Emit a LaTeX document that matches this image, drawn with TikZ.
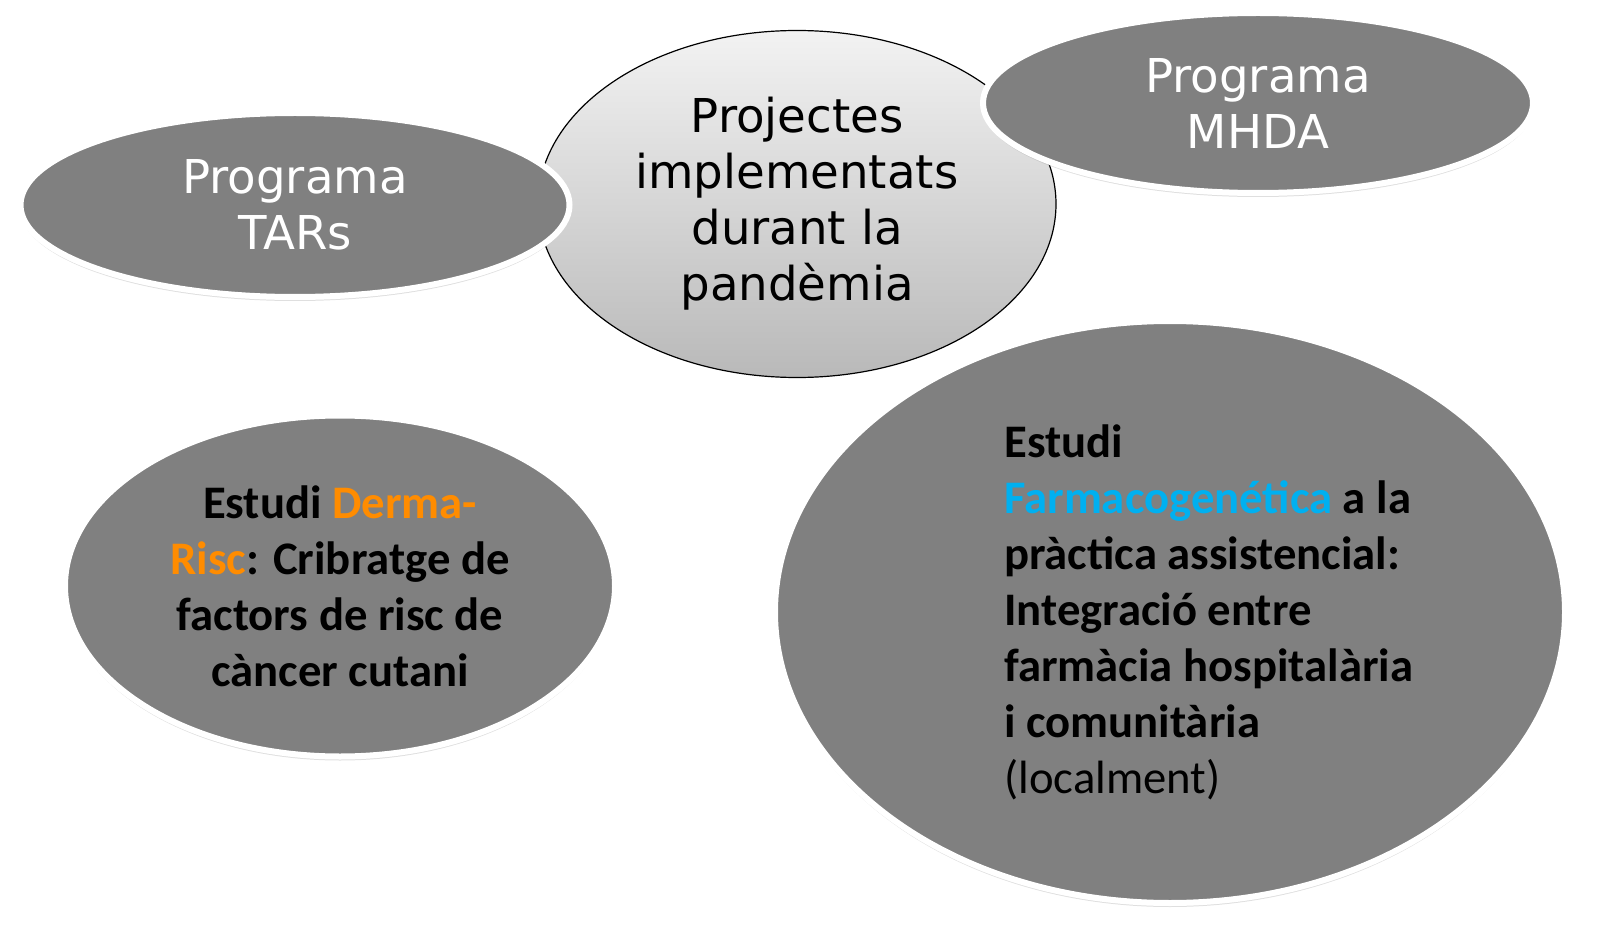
\documentclass[tikz,border=0pt]{standalone}
\usepackage{fontspec}
\setmainfont{Carlito}
\newfontfamily\verdanafont{DejaVu Sans}
\usepackage{tikz}
\usetikzlibrary{shapes.geometric,shadows}
\definecolor{ovalgray}{RGB}{128,128,128}
\definecolor{dermaorange}{RGB}{255,140,0}
\definecolor{farmablue}{RGB}{0,176,240}

\begin{document}
\begin{tikzpicture}[x=0.75pt, y=-0.75pt,
        oval/.style={ellipse, fill=ovalgray, draw=white, line width=4.5pt, inner sep=0pt,
            drop shadow={shadow xshift=0pt, shadow yshift=-3pt, opacity=0.25}},
        programa/.style={oval, text=white, align=center, font=\verdanafont\fontsize{35}{42}\selectfont},
        estudi/.style={oval, align=center, font=\bfseries\fontsize{35}{42}\selectfont}]
        \useasboundingbox (0,0) rectangle (1603,927);
        \node (pandemia) [ellipse, draw=black, line width=0.9pt, inner sep=0pt,
            top color=gray!10, bottom color=gray!55, align=center,
            minimum width=388.5pt, minimum height=260.25pt,
            font=\verdanafont\fontsize{35}{42}\selectfont] at (797,204)
            {Projectes\\implementats\\durant la\\pandèmia};
        \node (tars) [programa, minimum width=411.75pt, minimum height=138pt] at (295,205) {Programa\\TARs};
        \node (mhda) [programa, minimum width=412.5pt, minimum height=135pt] at (1258,103) {Programa\\MHDA};
        \node (dermarisc) [estudi, minimum width=412.5pt, minimum height=255.75pt] at (340,586)
            {Estudi \textcolor{dermaorange}{Derma-}\\\textcolor{dermaorange}{Risc}: Cribratge de\\factors de risc de\\càncer cutani};
        \node (farmaco) [estudi, minimum width=592.5pt, minimum height=436.5pt] at (1170,612) {};
        \node (farmacotext) [anchor=west, inner sep=0pt, align=left, font=\bfseries\fontsize{35}{42}\selectfont] at (1004,612)
            {Estudi\\\textcolor{farmablue}{Farmacogenética} a la\\pràctica assistencial:\\Integració entre\\farmàcia hospitalària\\i comunitària\\{\mdseries(localment)}};
    \end{tikzpicture}
\end{document}
